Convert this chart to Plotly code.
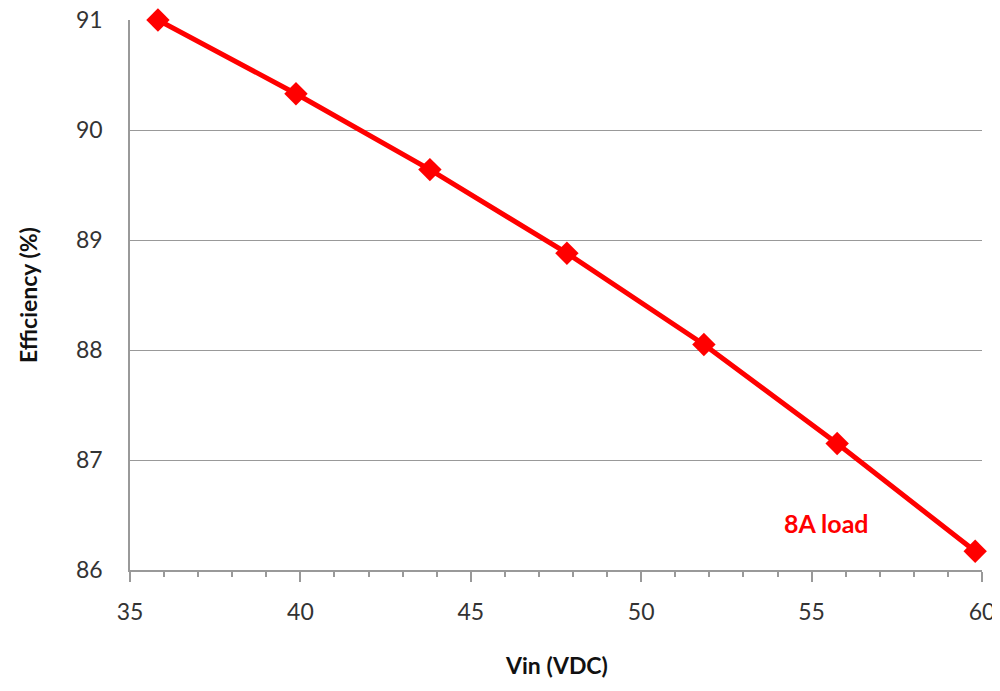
import plotly.graph_objects as go

vin = [35.82, 39.87, 43.8, 47.82, 51.84, 55.75, 59.8]
efficiency = [91.0, 90.33, 89.64, 88.88, 88.05, 87.15, 86.17]
series_label = "8A load"
x_title = "Vin (VDC)"
y_title = "Efficiency (%)"
x_ticks = [35, 40, 45, 50, 55, 60]
y_ticks = [86, 87, 88, 89, 90, 91]

font_family = "Lato, Open Sans, sans-serif"
red = "#ff0000"
gray = "#999999"

fig = go.Figure()
fig.add_trace(go.Scatter(
    x=vin, y=efficiency, mode="lines+markers",
    line=dict(color=red, width=5),
    marker=dict(symbol="diamond", size=18, color=red),
    showlegend=False,
    cliponaxis=False,
))

fig.add_annotation(x=55.45, y=86.43, xref="x", yref="y", text="<b>" + series_label + "</b>",
                   showarrow=False, font=dict(family=font_family, size=25, color=red))

# axis titles
fig.add_annotation(x=-0.1197, y=0.5, xref="paper", yref="paper", text="<b>" + y_title + "</b>",
                   textangle=-90, showarrow=False, xanchor="center", yanchor="middle",
                   font=dict(size=23, family=font_family, color="#111111"))
fig.add_annotation(x=0.5, y=-0.1727, xref="paper", yref="paper", text="<b>" + x_title + "</b>",
                   showarrow=False, xanchor="center", yanchor="middle",
                   font=dict(size=23, family=font_family, color="#111111"))

fig.update_layout(
    width=992, height=683,
    margin=dict(l=122, r=18, t=12, b=121),
    plot_bgcolor="white", paper_bgcolor="white",
    font=dict(family=font_family, color="#222222"),
    xaxis=dict(
        range=[35, 60], tickvals=x_ticks, showgrid=False, zeroline=False,
        showline=True, linecolor=gray, linewidth=1.5, automargin=False,
        ticks="outside", ticklen=10, tickcolor=gray, tickwidth=1.5,
        ticklabelstandoff=11, ticklabeloverflow="allow",
        tickfont=dict(size=23, family=font_family, color="#333333"),
        minor=dict(dtick=1, ticks="outside", ticklen=5, tickcolor=gray, tickwidth=1.5),
    ),
    yaxis=dict(
        range=[86, 91], tickvals=y_ticks, showgrid=True, gridcolor=gray, gridwidth=1,
        zeroline=False, showline=True, linecolor=gray, linewidth=1.5, automargin=False,
        ticks="", ticklabelstandoff=21, ticklabeloverflow="allow",
        tickfont=dict(size=23, family=font_family, color="#333333"),
    ),
)

fig.write_html("out.html")
